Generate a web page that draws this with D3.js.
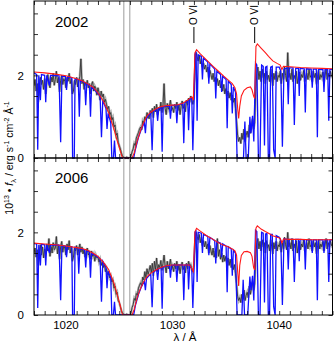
<!DOCTYPE html>
<html>
<head>
<meta charset="utf-8">
<script src="https://cdn.jsdelivr.net/npm/d3@7"></script>
<style>
  body { margin: 0; background: #fff; }
  text { font-family: "Liberation Sans", Arial, sans-serif; fill: #000; }
</style>
</head>
<body>
<div id="chart"></div>
<script>
// wavelength grid of the observed spectra (0.1 A steps)
const lamStart = 1017.0;
const lamStep = 0.1;

const years = ['2002', '2006'];
const xTickLabels = [1020, 1030, 1040];
const yTickLabels = [0, 2];
const ovi = [1032.0, 1037.7];
const airglow = [1025.42, 1025.98];

// observed flux, 2002
const obs2002 = [
  1.75, 1.90, 1.62, 1.80, 1.35, 1.70, 1.95, 1.78, 1.88, 1.66,
  1.92, 1.55, 1.85, 2.02, 1.80, 1.70, 1.96, 1.84, 2.05, 1.76,
  1.90, 2.10, 1.82, 1.95, 1.60, 1.88, 2.00, 1.78, 1.92, 1.85,
  1.70, 1.95, 1.86, 2.05, 1.80, 1.92, 1.55, 1.62, 1.88, 1.78,
  1.95, 1.72, 1.85, 1.98, 2.40, 1.80, 1.90, 1.66, 1.84, 1.75,
  1.88, 1.70, 1.80, 1.55, 1.78, 1.85, 1.62, 1.74, 1.68, 1.52,
  1.70, 1.58, 1.40, 1.62, 1.48, 1.55, 1.35, 1.42, 1.30, 1.18,
  1.25, 1.05, 1.10, 0.92, 0.98, 0.75, 0.80, 0.55, 0.60, 0.38,
  0.30, 0.22, 0.12, 0.05, 0.02, 0.00, 0.00, 0.02, 0.00, 0.00,
  0.00, 0.05, 0.15, 0.22, 0.35, 0.30, 0.48, 0.55, 0.62, 0.70,
  0.75, 0.68, 0.90, 0.85, 1.00, 0.92, 1.10, 1.02, 0.95, 1.15,
  1.08, 1.20, 0.98, 1.25, 1.12, 1.30, 1.05, 1.22, 1.15, 1.35,
  1.10, 1.28, 1.80, 1.20, 1.05, 1.32, 1.18, 1.25, 1.40, 1.15,
  1.22, 1.10, 1.30, 1.20, 1.35, 1.15, 1.28, 1.05, 1.25, 1.38,
  1.20, 1.30, 1.12, 1.40, 1.28, 1.45, 1.35, 1.50, 1.42, 1.30,
  1.45, 2.10, 2.55, 2.45, 2.35, 2.48, 2.28, 2.40, 2.20, 2.30,
  2.15, 2.25, 2.08, 2.20, 1.95, 2.12, 2.02, 1.90, 2.05, 1.85,
  1.95, 1.80, 1.92, 1.75, 1.88, 1.70, 1.82, 1.62, 1.78, 1.55,
  1.68, 1.50, 1.62, 1.45, 1.58, 1.40, 1.52, 1.35, 1.45, 1.20,
  0.90, 0.55, 0.40, 0.50, 0.35, 0.60, 0.45, 0.70, 0.40, 0.55,
  0.65, 0.50, 0.80, 0.60, 0.75, 0.95, 0.70, 0.85, 1.60, 2.05,
  2.20, 1.90, 2.10, 1.85, 2.15, 1.95, 2.05, 1.80, 2.10, 1.90,
  2.00, 1.85, 2.15, 1.95, 1.75, 2.05, 1.90, 2.10, 1.85, 2.00,
  1.95, 2.10, 1.80, 2.05, 1.90, 2.20, 2.00, 1.85, 2.55, 1.95,
  2.05, 1.90, 2.15, 1.85, 2.00, 1.92, 2.10, 1.80, 1.98, 2.08,
  1.88, 2.02, 1.95, 2.12, 1.85, 1.98, 2.05, 1.90, 2.15, 1.95,
  2.00, 1.85, 2.10, 1.95, 2.05, 1.78, 1.98, 2.12, 1.90, 2.02,
  1.95, 2.08, 1.85, 2.00, 2.15, 1.90, 2.05, 1.95, 2.10, 1.98,
  2.02
];

// observed flux, 2006
const obs2006 = [
  1.50, 1.62, 1.40, 1.58, 1.20, 1.52, 1.70, 1.45, 1.65, 1.38,
  1.60, 1.48, 1.72, 1.55, 1.85, 1.42, 1.66, 1.50, 1.75, 1.58,
  1.62, 1.90, 1.48, 1.70, 1.35, 1.65, 1.78, 1.52, 1.68, 1.60,
  1.45, 1.72, 1.58, 1.80, 1.50, 1.66, 1.30, 1.40, 1.62, 1.55,
  1.68, 1.45, 1.60, 1.72, 1.52, 1.65, 1.48, 1.58, 1.40, 1.55,
  1.62, 1.45, 1.50, 1.35, 1.55, 1.42, 1.48, 1.30, 1.45, 1.38,
  1.40, 1.28, 1.35, 1.20, 1.30, 1.15, 1.25, 1.05, 1.12, 0.98,
  1.02, 0.90, 0.95, 0.80, 0.85, 0.65, 0.70, 0.50, 0.55, 0.35,
  0.30, 0.20, 0.10, 0.05, 0.02, 0.00, 0.00, 0.02, 0.00, 0.00,
  0.00, 0.05, 0.18, 0.25, 0.40, 0.35, 0.52, 0.48, 0.65, 0.72,
  0.78, 0.70, 0.92, 0.85, 1.05, 0.90, 1.12, 0.98, 1.08, 1.20,
  1.02, 1.25, 0.95, 1.30, 1.10, 1.38, 1.05, 1.22, 1.15, 1.32,
  1.08, 1.25, 1.45, 1.18, 1.02, 1.30, 1.12, 1.20, 1.35, 1.10,
  1.18, 1.05, 1.25, 1.12, 1.30, 1.08, 1.22, 1.00, 1.18, 1.28,
  1.10, 1.20, 1.02, 1.25, 1.12, 1.30, 1.18, 1.22, 1.10, 1.05,
  1.20, 1.70, 2.00, 1.90, 1.82, 1.95, 1.75, 1.88, 1.68, 1.80,
  1.65, 1.78, 1.60, 1.72, 1.50, 1.68, 1.55, 1.45, 1.62, 1.40,
  1.55, 1.38, 1.85, 1.42, 1.58, 1.35, 1.50, 1.28, 1.45, 1.30,
  1.42, 1.25, 1.38, 1.20, 1.35, 1.15, 1.30, 1.10, 1.22, 1.00,
  0.75, 0.45, 0.35, 0.42, 0.30, 0.50, 0.38, 0.60, 0.35, 0.48,
  0.55, 0.42, 0.70, 0.50, 0.65, 0.80, 0.60, 0.75, 1.40, 1.75,
  1.85, 1.60, 1.78, 1.55, 1.82, 1.65, 1.75, 1.50, 1.80, 1.62,
  1.70, 1.55, 1.82, 1.65, 1.48, 1.75, 1.60, 1.78, 1.55, 1.70,
  1.65, 1.80, 1.52, 1.75, 1.60, 1.88, 1.70, 1.58, 2.00, 1.65,
  1.75, 1.60, 1.85, 1.55, 1.72, 1.62, 1.80, 1.50, 1.68, 1.78,
  1.58, 1.72, 1.65, 1.82, 1.55, 1.68, 1.75, 1.60, 1.85, 1.65,
  1.70, 1.55, 1.80, 1.65, 1.75, 1.48, 1.68, 1.82, 1.60, 1.72,
  1.65, 1.78, 1.55, 1.70, 1.85, 1.60, 1.75, 1.65, 1.80, 1.68,
  1.72
];

// stellar model (red), [lambda, flux]
const model2002 = [
  [1017.0, 2.08], [1018.0, 2.06], [1019.0, 2.03], [1020.0, 1.99], [1021.0, 1.92],
  [1021.5, 1.87], [1022.0, 1.80], [1022.5, 1.72], [1023.0, 1.58], [1023.5, 1.38],
  [1024.0, 1.10], [1024.5, 0.70], [1024.8, 0.42], [1025.0, 0.25], [1025.2, 0.08],
  [1025.3, 0.0], [1026.2, 0.0], [1026.4, 0.12], [1026.7, 0.43], [1027.0, 0.67],
  [1027.3, 0.86], [1027.6, 1.02], [1028.0, 1.12], [1028.5, 1.20], [1029.0, 1.25],
  [1029.5, 1.27], [1030.0, 1.28], [1030.5, 1.29], [1031.0, 1.33], [1031.4, 1.40],
  [1031.8, 1.48], [1031.95, 1.40], [1032.1, 2.55], [1032.25, 2.62], [1032.6, 2.52],
  [1033.2, 2.37], [1033.8, 2.22], [1034.3, 2.10], [1034.8, 1.98], [1035.2, 1.89],
  [1035.6, 1.80], [1035.85, 1.70], [1036.0, 1.55], [1036.12, 1.15], [1036.2, 0.96],
  [1036.3, 1.25], [1036.45, 1.50], [1036.7, 1.64], [1037.0, 1.70], [1037.3, 1.72],
  [1037.45, 1.65], [1037.6, 1.50], [1037.7, 1.44], [1037.82, 2.70], [1037.95, 2.76],
  [1038.3, 2.66], [1038.7, 2.55], [1039.0, 2.46], [1039.4, 2.35], [1039.8, 2.29],
  [1040.1, 2.25], [1040.25, 2.14], [1040.4, 2.22], [1041.0, 2.21], [1042.0, 2.19],
  [1043.0, 2.18], [1044.0, 2.17], [1045.0, 2.16]
];

const model2006 = [
  [1017.0, 1.74], [1018.0, 1.72], [1019.0, 1.70], [1020.0, 1.67], [1021.0, 1.63],
  [1021.5, 1.61], [1022.0, 1.57], [1022.5, 1.50], [1023.0, 1.42], [1023.5, 1.28],
  [1024.0, 1.10], [1024.5, 0.77], [1024.8, 0.50], [1025.0, 0.32], [1025.2, 0.12],
  [1025.3, 0.0], [1026.2, 0.0], [1026.4, 0.14], [1026.7, 0.44], [1027.0, 0.65],
  [1027.3, 0.81], [1027.6, 0.93], [1028.0, 1.02], [1028.5, 1.10], [1029.0, 1.16],
  [1029.5, 1.20], [1030.0, 1.21], [1031.0, 1.21], [1031.6, 1.21], [1031.8, 1.12],
  [1031.95, 1.05], [1032.1, 2.02], [1032.25, 2.10], [1032.6, 2.03], [1033.2, 1.92],
  [1033.8, 1.83], [1034.3, 1.75], [1034.8, 1.69], [1035.2, 1.65], [1035.6, 1.60],
  [1035.85, 1.55], [1036.0, 1.45], [1036.12, 1.00], [1036.2, 0.70], [1036.3, 1.20],
  [1036.45, 1.44], [1036.7, 1.53], [1037.0, 1.54], [1037.3, 1.51], [1037.45, 1.42],
  [1037.6, 1.15], [1037.7, 1.09], [1037.82, 2.10], [1037.95, 2.16], [1038.3, 2.08],
  [1038.7, 2.02], [1039.0, 1.98], [1039.4, 1.92], [1039.8, 1.88], [1040.1, 1.86],
  [1040.25, 1.74], [1040.4, 1.84], [1041.0, 1.83], [1042.0, 1.83], [1043.0, 1.82],
  [1044.0, 1.82], [1045.0, 1.82]
];

// model with interstellar absorption (blue), [lambda, flux]
const ism2002 = [
  [1017.0, 2.06], [1017.25, 2.02], [1017.35, 0.2], [1017.45, 2.0], [1017.6, 1.4], [1017.7, 2.02],
  [1018.0, 2.0], [1018.1, 1.35], [1018.2, 2.0], [1018.45, 1.75], [1018.55, 2.0], [1019.35, 1.99],
  [1019.5, 0.38], [1019.62, 1.98], [1019.95, 1.97], [1020.05, 1.65], [1020.15, 1.96], [1020.55, 1.94],
  [1020.62, 0.0], [1020.78, 0.0], [1020.85, 1.92], [1021.15, 1.9], [1021.25, 1.0], [1021.35, 1.88],
  [1021.75, 1.82], [1021.85, 1.28], [1021.95, 1.8], [1022.2, 1.75], [1022.3, 1.0], [1022.4, 1.73],
  [1023.2, 1.5], [1023.33, 0.5], [1023.45, 1.4], [1023.75, 1.2], [1023.85, 0.7], [1023.95, 1.08],
  [1024.2, 0.85], [1024.3, 0.0], [1024.45, 0.0], [1024.55, 0.42], [1024.65, 0.0], [1026.35, 0.0],
  [1026.5, 0.2], [1026.8, 0.5], [1027.1, 0.72], [1027.35, 0.86], [1027.45, 0.6], [1027.55, 0.95],
  [1027.95, 1.1], [1028.08, 0.19], [1028.2, 1.12], [1028.5, 1.18], [1028.6, 0.9], [1028.7, 1.2],
  [1028.92, 1.22], [1029.02, 0.15], [1029.12, 1.24], [1029.7, 1.26], [1029.8, 0.95], [1029.9, 1.27],
  [1030.3, 1.28], [1030.4, 0.84], [1030.5, 1.28], [1030.95, 1.32], [1031.05, 0.36], [1031.15, 1.34],
  [1031.42, 1.38], [1031.5, 0.67], [1031.6, 1.42], [1031.8, 1.45], [1031.9, 0.19], [1032.0, 1.2],
  [1032.1, 2.5], [1032.2, 2.58], [1032.3, 0.9], [1032.4, 2.5], [1032.7, 2.46], [1032.8, 1.9],
  [1032.9, 2.42], [1033.3, 2.32], [1033.4, 1.8], [1033.5, 2.28], [1033.95, 2.15], [1034.05, 1.44],
  [1034.15, 2.1], [1034.5, 2.02], [1034.6, 1.6], [1034.7, 1.98], [1035.02, 1.9], [1035.12, 0.72],
  [1035.22, 1.86], [1035.5, 1.78], [1035.6, 1.08], [1035.7, 1.72], [1035.9, 1.6], [1036.05, 0.0],
  [1036.65, 0.0], [1036.78, 0.88], [1036.9, 0.0], [1037.1, 0.0], [1037.25, 1.0], [1037.35, 0.6],
  [1037.5, 1.02], [1037.62, 0.4], [1037.78, 2.3], [1037.9, 2.25], [1038.05, 0.0], [1038.2, 0.0],
  [1038.35, 2.25], [1038.5, 2.22], [1038.62, 0.3], [1038.72, 2.2], [1038.85, 2.22], [1038.98, 0.0],
  [1039.1, 0.0], [1039.2, 2.2], [1039.35, 2.22], [1039.48, 0.2], [1039.62, 0.0], [1039.72, 2.2],
  [1040.0, 2.2], [1040.15, 2.1], [1040.3, 0.27], [1040.45, 2.15], [1040.75, 2.18], [1040.85, 1.3],
  [1040.95, 2.18], [1041.3, 2.18], [1041.42, 0.8], [1041.55, 2.17], [1041.8, 2.17], [1041.88, 1.5],
  [1041.96, 2.17], [1042.35, 2.16], [1042.45, 1.1], [1042.55, 2.16], [1043.0, 2.15], [1043.1, 1.7],
  [1043.2, 2.15], [1043.48, 2.15], [1043.58, 0.5], [1043.68, 2.14], [1044.1, 2.14], [1044.2, 1.6],
  [1044.3, 2.14], [1044.55, 2.14], [1044.65, 0.9], [1044.75, 2.14], [1045.0, 2.14]
];

const ism2006 = [
  [1017.0, 1.73], [1017.25, 1.72], [1017.35, 0.17], [1017.45, 1.7], [1017.6, 1.2], [1017.7, 1.71],
  [1018.0, 1.7], [1018.1, 1.2], [1018.2, 1.7], [1018.45, 1.5], [1018.55, 1.7], [1019.35, 1.69],
  [1019.5, 0.36], [1019.62, 1.68], [1019.95, 1.67], [1020.05, 1.4], [1020.15, 1.66], [1020.55, 1.65],
  [1020.62, 0.0], [1020.78, 0.0], [1020.85, 1.64], [1021.1, 1.62], [1021.2, 1.0], [1021.3, 1.61],
  [1021.75, 1.57], [1021.85, 1.15], [1021.95, 1.56], [1022.2, 1.53], [1022.3, 0.9], [1022.4, 1.5],
  [1023.2, 1.36], [1023.33, 0.32], [1023.45, 1.3], [1023.75, 1.15], [1023.85, 0.65], [1023.95, 1.06],
  [1024.2, 0.9], [1024.3, 0.0], [1024.45, 0.0], [1024.55, 0.32], [1024.65, 0.0], [1026.35, 0.0],
  [1026.5, 0.22], [1026.8, 0.5], [1027.1, 0.7], [1027.35, 0.82], [1027.45, 0.6], [1027.55, 0.88],
  [1027.95, 1.0], [1028.08, 0.19], [1028.2, 1.03], [1028.5, 1.1], [1028.6, 0.85], [1028.7, 1.12],
  [1028.92, 1.15], [1029.02, 0.15], [1029.12, 1.16], [1029.7, 1.2], [1029.8, 0.9], [1029.9, 1.2],
  [1030.3, 1.21], [1030.4, 0.8], [1030.5, 1.21], [1030.95, 1.21], [1031.05, 0.36], [1031.15, 1.21],
  [1031.42, 1.21], [1031.5, 0.62], [1031.6, 1.2], [1031.8, 1.12], [1031.9, 0.17], [1032.0, 1.0],
  [1032.1, 2.0], [1032.2, 2.05], [1032.3, 0.8], [1032.4, 2.0], [1032.7, 1.98], [1032.8, 1.5],
  [1032.9, 1.95], [1033.3, 1.9], [1033.4, 1.45], [1033.5, 1.88], [1033.95, 1.8], [1034.05, 1.25],
  [1034.15, 1.78], [1034.5, 1.74], [1034.6, 1.4], [1034.7, 1.72], [1035.02, 1.67], [1035.12, 0.55],
  [1035.22, 1.65], [1035.5, 1.6], [1035.6, 0.95], [1035.7, 1.57], [1035.9, 1.5], [1036.05, 0.0],
  [1036.5, 0.0], [1036.62, 0.85], [1036.75, 0.0], [1037.05, 0.0], [1037.25, 0.93], [1037.35, 0.6],
  [1037.5, 0.95], [1037.62, 0.35], [1037.78, 2.05], [1037.9, 2.02], [1038.05, 0.0], [1038.2, 0.0],
  [1038.35, 2.0], [1038.5, 1.98], [1038.62, 0.3], [1038.72, 1.96], [1038.85, 1.97], [1038.98, 0.0],
  [1039.1, 0.0], [1039.2, 1.95], [1039.35, 1.95], [1039.48, 0.2], [1039.62, 0.0], [1039.72, 1.92],
  [1040.0, 1.88], [1040.15, 1.8], [1040.3, 0.24], [1040.45, 1.84], [1040.75, 1.83], [1040.85, 1.1],
  [1040.95, 1.83], [1041.3, 1.83], [1041.42, 0.8], [1041.55, 1.83], [1041.8, 1.83], [1041.88, 1.3],
  [1041.96, 1.83], [1042.35, 1.82], [1042.45, 1.1], [1042.55, 1.82], [1043.0, 1.82], [1043.1, 1.5],
  [1043.2, 1.82], [1043.48, 1.82], [1043.58, 0.36], [1043.68, 1.82], [1044.1, 1.82], [1044.2, 1.5],
  [1044.3, 1.82], [1044.55, 1.82], [1044.65, 0.8], [1044.75, 1.82], [1045.0, 1.82]
];

const width = 334;
const height = 348;

const svg = d3.select('#chart').append('svg')
    .attr('width', width)
    .attr('height', height);

const x = d3.scaleLinear()
    .domain([1017, 1045])
    .range([34, 332.5]);

const panels = [
    { year: years[0], obs: obs2002, model: model2002, ism: ism2002, top: 1, bottom: 158 },
    { year: years[1], obs: obs2006, model: model2006, ism: ism2006, top: 158, bottom: 315 }
];

svg.append('defs').append('clipPath')
    .attr('id', 'clipAll')
    .append('rect')
    .attr('x', x.range()[0]).attr('y', 0)
    .attr('width', x.range()[1] - x.range()[0]).attr('height', 315);

panels.forEach((p, i) => {
    const y = d3.scaleLinear().domain([0, 3.8]).range([p.bottom, p.top]);

    const g = svg.append('g').attr('clip-path', 'url(#clipAll)');

    // geocoronal emission
    g.selectAll('.airglow')
        .data(airglow)
        .enter()
        .append('line')
        .attr('x1', (d) => x(d)).attr('x2', (d) => x(d))
        .attr('y1', p.top).attr('y2', y(0))
        .attr('stroke', '#b8b8b8')
        .attr('stroke-width', 1.4);

    const obsLine = d3.line()
        .x((d, k) => x(lamStart + k * lamStep))
        .y((d) => y(d));
    g.append('path')
        .attr('d', obsLine(p.obs))
        .attr('fill', 'none')
        .attr('stroke', '#b4b4b4')
        .attr('stroke-width', 2.4);
    g.append('path')
        .attr('d', obsLine(p.obs))
        .attr('fill', 'none')
        .attr('stroke', '#333')
        .attr('stroke-width', 0.9);

    const pairLine = d3.line()
        .x((d) => x(d[0]))
        .y((d) => y(d[1]));

    g.append('path')
        .attr('d', pairLine(p.ism))
        .attr('fill', 'none')
        .attr('stroke', '#1010ff')
        .attr('stroke-width', 1.3);

    g.append('path')
        .attr('d', pairLine(p.model))
        .attr('fill', 'none')
        .attr('stroke', '#ff1a1a')
        .attr('stroke-width', 1.1);

    // inward ticks on all four sides
    const minorX = d3.range(1017, 1046);
    const minorY = d3.range(0, 3.81, 0.5);
    const ax = svg.append('g');
    ax.append('g')
        .attr('transform', `translate(0, ${p.bottom})`)
        .call(d3.axisBottom(x).tickValues(minorX).tickSize(-4).tickFormat(''));
    ax.append('g')
        .attr('transform', `translate(0, ${p.top})`)
        .call(d3.axisTop(x).tickValues(minorX).tickSize(-4).tickFormat(''));
    ax.append('g')
        .attr('transform', `translate(${x.range()[0]}, 0)`)
        .call(d3.axisLeft(y).tickValues(minorY).tickSize(-4).tickFormat(''));
    ax.append('g')
        .attr('transform', `translate(${x.range()[1]}, 0)`)
        .call(d3.axisRight(y).tickValues(minorY).tickSize(-4).tickFormat(''));
    ax.selectAll('.domain').remove();
    ax.selectAll('.tick line').attr('stroke', '#000').attr('stroke-width', 0.8);

    svg.append('rect')
        .attr('x', x.range()[0]).attr('y', p.top)
        .attr('width', x.range()[1] - x.range()[0])
        .attr('height', p.bottom - p.top)
        .attr('fill', 'none')
        .attr('stroke', '#000')
        .attr('stroke-width', 1);

    // y labels
    svg.selectAll(null)
        .data(yTickLabels)
        .enter()
        .append('text')
        .attr('x', 24)
        .attr('y', (d) => y(d))
        .attr('dy', '0.36em')
        .attr('text-anchor', 'end')
        .attr('font-size', 11.5)
        .text((d) => d);

    svg.append('text')
        .attr('x', 55)
        .attr('y', p.top + (i === 0 ? 26 : 25))
        .attr('font-size', 15)
        .text(p.year);

    if (i === 0) {
        ovi.forEach((l) => {
            svg.append('line')
                .attr('x1', x(l)).attr('x2', x(l))
                .attr('y1', 27).attr('y2', 43)
                .attr('stroke', '#000')
                .attr('stroke-width', 1);
            svg.append('text')
                .attr('transform', `translate(${x(l)}, 25) rotate(-90)`)
                .attr('dy', '0.35em')
                .attr('font-size', 10)
                .text('O VI');
        });
    }
});

// x tick labels
svg.selectAll('.xlab')
    .data(xTickLabels)
    .enter()
    .append('text')
    .attr('x', (d) => x(d))
    .attr('y', 329)
    .attr('text-anchor', 'middle')
    .attr('font-size', 11.5)
    .text((d) => d);

svg.append('text')
    .attr('x', 185)
    .attr('y', 341)
    .attr('text-anchor', 'middle')
    .attr('font-size', 11.5)
    .text('\u03BB / \u00C5');

// y title
const yt = svg.append('text')
    .attr('transform', `translate(13, 158) rotate(-90)`)
    .attr('text-anchor', 'middle')
    .attr('font-size', 10.5);
yt.append('tspan').text('10');
yt.append('tspan').attr('dy', -4).attr('font-size', 7).text('13');
yt.append('tspan').attr('dy', 4).text(' \u2022 ');
yt.append('tspan').attr('font-style', 'italic').text('f');
yt.append('tspan').attr('dy', 2.5).attr('font-size', 7.5).text('\u03BB');
yt.append('tspan').attr('dy', -2.5).text(' / erg s');
yt.append('tspan').attr('dy', -4).attr('font-size', 7).text('-1');
yt.append('tspan').attr('dy', 4).text(' cm');
yt.append('tspan').attr('dy', -4).attr('font-size', 7).text('-2');
yt.append('tspan').attr('dy', 4).text(' \u00C5');
yt.append('tspan').attr('dy', -4).attr('font-size', 7).text('-1');
</script>
</body>
</html>
